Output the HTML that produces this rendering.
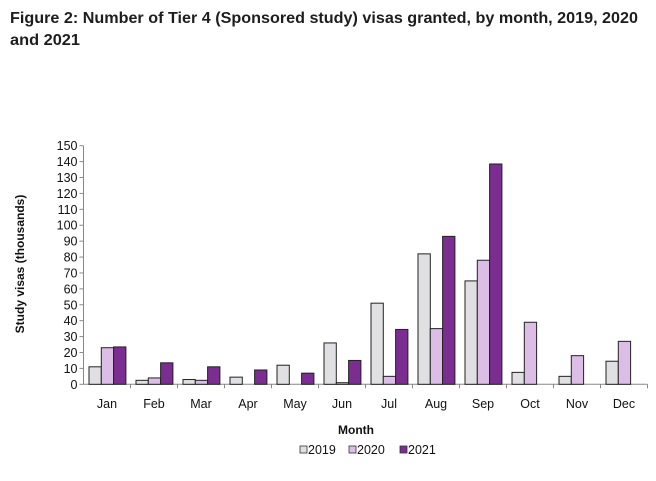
<!DOCTYPE html>
<html><head><meta charset="utf-8"><style>
html,body{margin:0;padding:0;background:#fff;}
svg{display:block;font-family:"Liberation Sans",Arial,sans-serif;}
</style></head><body>
<svg id="chart" width="656" height="481" viewBox="0 0 656 481">
<text x="10" y="23" font-size="16" font-weight="bold" fill="#1d1d1d" textLength="628" lengthAdjust="spacingAndGlyphs">Figure 2: Number of Tier 4 (Sponsored study) visas granted, by month, 2019, 2020</text>
<text x="10" y="45" font-size="16" font-weight="bold" fill="#1d1d1d" textLength="70" lengthAdjust="spacingAndGlyphs">and 2021</text>
<g id="plot"></g>
<text transform="translate(24,264) rotate(-90)" text-anchor="middle" font-size="12" font-weight="bold" fill="#111">Study visas (thousands)</text>
<text x="356" y="434" text-anchor="middle" font-size="12" font-weight="bold" fill="#111">Month</text>
<g>
<rect x="300" y="446" width="7" height="7" fill="#e0e0e2" stroke="#333" stroke-width="0.8"/>
<text x="308" y="454" font-size="12.5" fill="#111">2019</text>
<rect x="349" y="446" width="7" height="7" fill="#dcbde6" stroke="#333" stroke-width="0.8"/>
<text x="357" y="454" font-size="12.5" fill="#111">2020</text>
<rect x="400" y="446" width="7" height="7" fill="#7b2d91" stroke="#333" stroke-width="0.8"/>
<text x="408" y="454" font-size="12.5" fill="#111">2021</text>
</g>
</svg>
<script>
const months = ["Jan","Feb","Mar","Apr","May","Jun","Jul","Aug","Sep","Oct","Nov","Dec"];
const v2019 = [11,2.5,3,4.5,12,26,51,82,65,7.5,5,14.5];
const v2020 = [23,4,2.5,0,0,1,5,35,78,39,18,27];
const v2021 = [23.5,13.5,11,9,7,15,34.5,93,138.5,0,0,0];
const yTicks = [0,10,20,30,40,50,60,70,80,90,100,110,120,130,140,150];

const NS = "http://www.w3.org/2000/svg";
const g = document.getElementById("plot");
const x0 = 83.5, band = 47, yBase = 384.3, yMaxPx = 145.7, yMax = 150;
const y = v => yBase - v / yMax * (yBase - yMaxPx);
const bx = (i, s) => x0 + i * band + 5.5 + s * 12.3;
function mk(tag, attrs) { const e = document.createElementNS(NS, tag); for (const k in attrs) e.setAttribute(k, attrs[k]); g.appendChild(e); return e; }

let ax = mk("line", {x1:x0, y1:yMaxPx, x2:x0, y2:yBase, stroke:"#888", "stroke-width":1});


let axx = mk("line", {x1:x0, y1:yBase, x2:x0 + band * months.length, y2:yBase, stroke:"#888", "stroke-width":1});



yTicks.forEach(t => {
  const tl = mk("line", {x1:x0 - 4, y1:y(t), x2:x0, y2:y(t), stroke:"#888"});
  
  
  const tx = mk("text", {x:x0 - 6, y:y(t) + 4.5, "text-anchor":"end", "font-size":"12.5", fill:"#111"});
  tx.textContent = t;
  
  
});

const series = [[v2019,"#e0e0e2","2019"],[v2020,"#dcbde6","2020"],[v2021,"#7b2d91","2021"]];
months.forEach((m, i) => {
  const tk = mk("line", {x1:x0 + (i + 1) * band, y1:yBase, x2:x0 + (i + 1) * band, y2:yBase + 4, stroke:"#888"});
  
  
  const lb = mk("text", {x:x0 + i * band + band / 2, y:408, "text-anchor":"middle", "font-size":"12.5", fill:"#111"});
  lb.textContent = m;
  
  
  series.forEach((s, si) => {
    const v = s[0][i];
    if (v <= 0) return;
    const r = mk("rect", {x:bx(i, si), y:y(v), width:12.3, height:yBase - y(v), fill:s[1], stroke:"#222", "stroke-width":1});
    
    
  });
});
</script>
</body></html>
